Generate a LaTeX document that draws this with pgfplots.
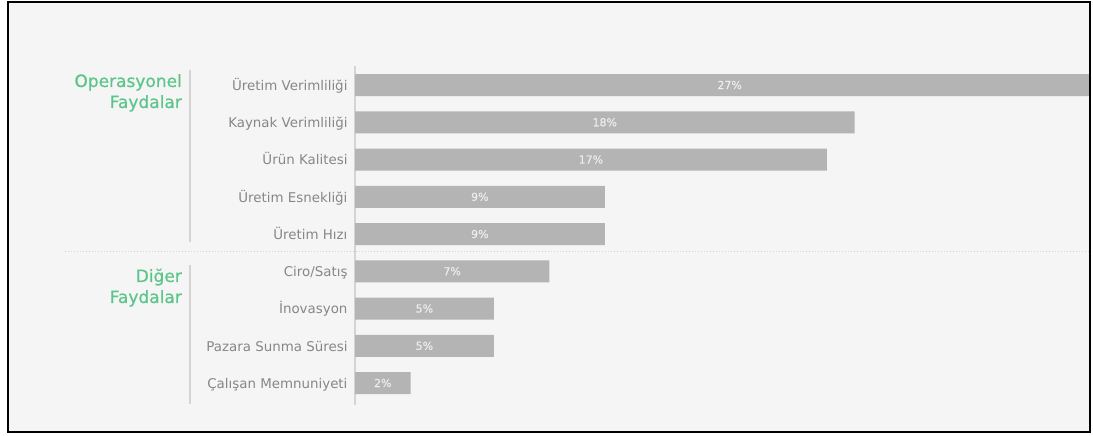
\documentclass[border=0pt]{standalone}
\usepackage{pgfplots}
\pgfplotsset{compat=1.18}
\usepackage{fontspec}
\setmainfont{DejaVu Sans}
\newfontfamily\grpfont[FakeBold=0.6]{DejaVu Sans}
\newfontfamily\valfont[FakeBold=0.3]{DejaVu Sans}
\definecolor{bg}{HTML}{F5F5F5}
\definecolor{barc}{HTML}{B4B4B4}
\definecolor{grn}{HTML}{5CC58A}
\definecolor{lbl}{HTML}{878787}
\definecolor{sep}{HTML}{D4D4D4}
\definecolor{vall}{HTML}{EDEDED}
\begin{document}
\begin{tikzpicture}[x=1pt,y=1pt]
\useasboundingbox (0,0) rectangle (1093,436);
\fill[white] (0,0) rectangle (1093,436);
\fill[bg] (8,4) rectangle (1090,434);
\begin{scope}
\clip (8,4) rectangle (1090,434);
% separator and group lines
\draw[sep, line width=1pt, dotted] (65,184) -- (1090,184);
\draw[sep, line width=1.8pt] (190,366) -- (190,194);
\draw[sep, line width=1.8pt] (190,171) -- (190,32);
% group labels
\node[anchor=base east, inner sep=0pt, text=grn, font=\grpfont\fontsize{17}{17}\selectfont] at (182,349) {Operasyonel};
\node[anchor=base east, inner sep=0pt, text=grn, font=\grpfont\fontsize{17}{17}\selectfont] at (182,328) {Faydalar};
\node[anchor=base east, inner sep=0pt, text=grn, font=\grpfont\fontsize{17}{17}\selectfont] at (182,154) {Diğer};
\node[anchor=base east, inner sep=0pt, text=grn, font=\grpfont\fontsize{17}{17}\selectfont] at (182,133) {Faydalar};
\begin{axis}[at={(355pt,31pt)}, anchor=south west, scale only axis,
  width=754.8pt, height=339pt,
  xmin=0, xmax=27.2, ymin=-0.51, ymax=8.59, y dir=reverse,
  axis x line=none, axis y line*=left,
  y axis line style={draw=sep, line width=1.5pt, -},
  ytick={0,...,8},
  yticklabels={Üretim Verimliliği, Kaynak Verimliliği, Ürün Kalitesi, Üretim Esnekliği, Üretim Hızı, Ciro/Satış, İnovasyon, Pazara Sunma Süresi, Çalışan Memnuniyeti},
  major tick length=0pt,
  yticklabel style={font=\fontsize{13.4}{13.4}\selectfont, text=lbl, xshift=-4pt, yshift=-2pt,
    anchor=east, text height=9.8pt, text depth=3pt},
  xbar, bar width=22pt,
  clip=true]
\addplot[fill=barc, draw=none, point meta=x,
  visualization depends on=rawx \as \rawx,
  nodes near coords={\pgfmathprintnumber[assume math mode=true]{\pgfplotspointmeta}\%},
  every node near coord/.append style={anchor=center, text=vall,
    font=\valfont\fontsize{11}{11}\selectfont, shift={(axis direction cs:-\rawx/2,0)}}]
  coordinates {(27,0) (18,1) (17,2) (9,3) (9,4) (7,5) (5,6) (5,7) (2,8)};
\end{axis}
\end{scope}
\draw[black, line width=2pt] (8,4) rectangle (1090,434);
\end{tikzpicture}
\end{document}
